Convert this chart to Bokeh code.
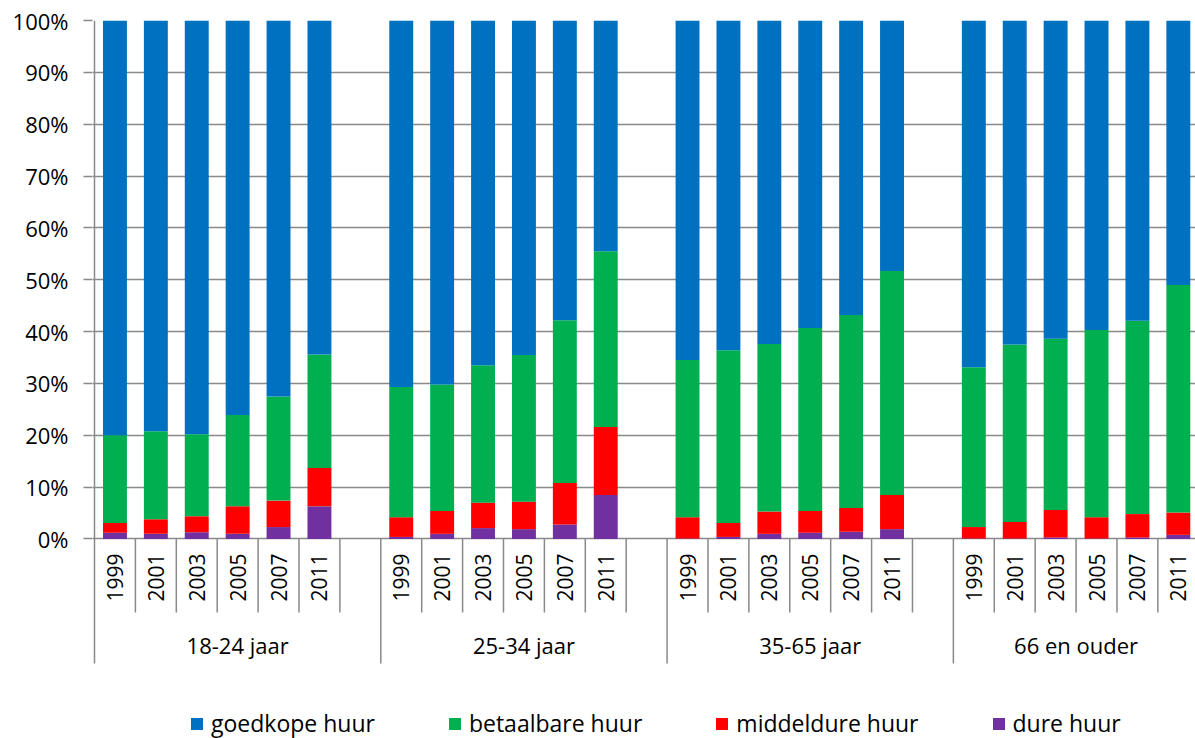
import numpy as np
from bokeh.plotting import figure
from bokeh.models import (ColumnDataSource, Range1d, FixedTicker, NumeralTickFormatter,
                          Legend, LegendItem)
from bokeh.core.properties import value
from bokeh.embed import file_html
from bokeh.resources import INLINE

# ---------------- data (percent) ----------------
groups = ["18-24 jaar", "25-34 jaar", "35-65 jaar", "66 en ouder"]
years = ["1999", "2001", "2003", "2005", "2007", "2011"]
series = ["goedkope huur", "betaalbare huur", "middeldure huur", "dure huur"]
colors = ["#0070C0", "#00B050", "#FF0000", "#7030A0"]

# values per group, in year order
dure = [
    [1.2, 1.0, 1.3, 1.0, 2.3, 6.3],
    [0.4, 1.0, 2.1, 1.9, 2.8, 8.5],
    [0.1, 0.4, 1.0, 1.2, 1.4, 1.9],
    [0.1, 0.1, 0.3, 0.1, 0.3, 0.8],
]
middeldure = [
    [1.9, 2.8, 3.1, 5.3, 5.1, 7.4],
    [3.8, 4.4, 4.9, 5.3, 8.0, 13.1],
    [4.1, 2.7, 4.3, 4.2, 4.6, 6.6],
    [2.2, 3.2, 5.3, 4.1, 4.5, 4.3],
]
betaalbare = [
    [16.9, 17.0, 15.8, 17.6, 20.1, 21.9],
    [25.1, 24.4, 26.5, 28.3, 31.4, 33.9],
    [30.3, 33.3, 32.3, 35.3, 37.2, 43.2],
    [30.8, 34.2, 33.0, 36.1, 37.3, 43.9],
]
goedkope = [
    [80.0, 79.2, 79.8, 76.1, 72.5, 64.4],
    [70.7, 70.2, 66.5, 64.5, 57.8, 44.5],
    [65.5, 63.6, 62.4, 59.3, 56.8, 48.3],
    [66.9, 62.5, 61.4, 59.7, 57.9, 51.0],
]
y_ticks = [0, 0.1, 0.2, 0.3, 0.4, 0.5, 0.6, 0.7, 0.8, 0.9, 1.0]

# ---------------- layout helpers ----------------
SLOTS = [7, 7, 7, 6]          # categories per group (incl. blank slot)
starts = np.cumsum([0] + SLOTS[:-1])

xs, yl, d, m, b, g = [], [], [], [], [], []
for gi in range(len(groups)):
    for yi, yr in enumerate(years):
        xs.append(starts[gi] + yi + 0.5)
        yl.append(yr)
        d.append(dure[gi][yi] / 100)
        m.append(middeldure[gi][yi] / 100)
        b.append(betaalbare[gi][yi] / 100)
        g.append(goedkope[gi][yi] / 100)

src = ColumnDataSource(dict(x=xs, year=yl, dure=d, middeldure=m,
                            betaalbare=b, goedkope=g))

Y_BOTTOM = -0.3848
p = figure(width=1195, height=738, output_backend="svg", toolbar_location=None,
           x_range=Range1d(-0.049, 26.92), y_range=Range1d(Y_BOTTOM, 1.0),
           x_axis_location=None, min_border_left=92, min_border_top=20,
           min_border_bottom=0, min_border_right=0)
p.outline_line_color = None
p.xgrid.visible = False

ticker = FixedTicker(ticks=y_ticks)
p.yaxis.ticker = ticker
p.yaxis.formatter = NumeralTickFormatter(format="0%")
p.yaxis.axis_line_color = None
p.yaxis.major_tick_line_color = "#898989"
p.yaxis.major_tick_line_width = 1.5
p.yaxis.major_tick_in = 0
p.yaxis.major_tick_out = 9
p.yaxis.minor_tick_line_color = None
p.yaxis.major_label_standoff = 15
p.yaxis.major_label_text_font = "Open Sans"
p.yaxis.major_label_text_font_size = "22px"
p.yaxis.major_label_text_color = "#000000"
p.ygrid.ticker = ticker
p.ygrid.grid_line_color = "#898989"
p.ygrid.grid_line_width = 1.5

stack_keys = ["dure", "middeldure", "betaalbare", "goedkope"]
stack_cols = ["#7030A0", "#FF0000", "#00B050", "#0070C0"]
rs = p.vbar_stack(stack_keys, x="x", width=0.585, color=stack_cols,
                  line_color=None, source=src)

# category axis drawn by hand: separators and labels
sep_x, sep_y0 = [], []
YEAR_SEP = -0.1418
GROUP_SEP = -0.2401
for gi, n in enumerate(SLOTS):
    sep_x.append(starts[gi]); sep_y0.append(GROUP_SEP)
    for s in range(1, n):
        sep_x.append(starts[gi] + s); sep_y0.append(YEAR_SEP)
p.segment(x0=sep_x, y0=sep_y0, x1=sep_x, y1=[0] * len(sep_x),
          line_color="#898989", line_width=1.5)
# left vertical line up to the top
p.segment(x0=[0], y0=[0], x1=[0], y1=[1.0], line_color="#898989", line_width=1.5)

p.text(x="x", y=-0.0743, text="year", source=src, angle=np.pi / 2,
       text_align="center", text_baseline="middle",
       text_font=value("Open Sans"), text_font_size="21px", text_color="#000000")

gx = [starts[gi] + SLOTS[gi] / 2 for gi in range(len(groups))]
p.text(x=gx, y=[-0.2054] * len(groups), text=groups,
       text_align="center", text_baseline="middle",
       text_font=value("Open Sans"), text_font_size="22px", text_color="#000000")

order = ["goedkope", "betaalbare", "middeldure", "dure"]
items = [LegendItem(label=series[i], renderers=[rs[stack_keys.index(order[i])]])
         for i in range(4)]
legend = Legend(items=items, orientation="horizontal", location=(97, -1),
                padding=0, spacing=72, label_standoff=7, glyph_width=15,
                glyph_height=15, label_text_font="Open Sans",
                label_text_font_size="23px", label_text_color="#000000",
                border_line_color=None, background_fill_alpha=0)
p.add_layout(legend)

open("out.html", "w").write(file_html(p, INLINE))
